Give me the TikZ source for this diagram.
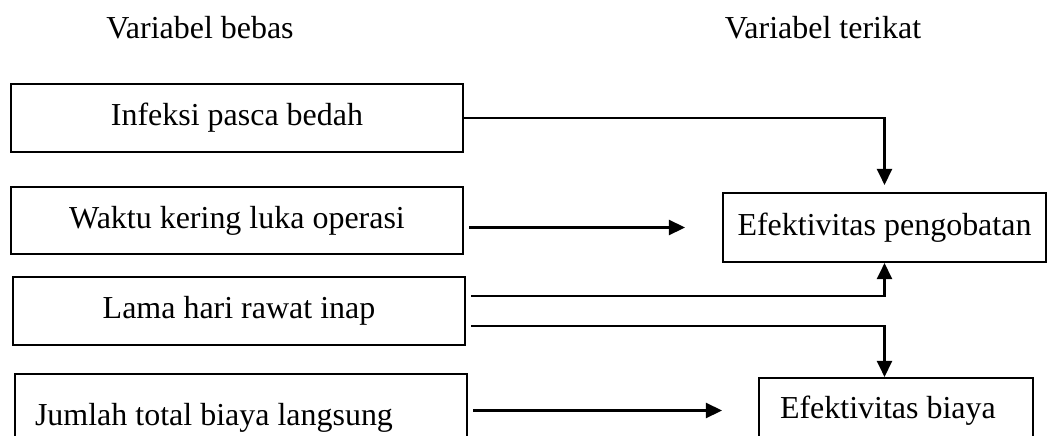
\documentclass[tikz,border=0pt]{standalone}
\usepackage{fontspec}
\setmainfont{Liberation Serif}
\usetikzlibrary{arrows.meta,positioning}

\begin{document}
\begin{tikzpicture}[
    x=0.02cm, y=-0.02cm,
    >={Triangle[length=0.32cm,width=0.3cm]},
    every node/.style={font=\fontsize{18.2}{22}\selectfont},
    varbox/.style={
        draw,
        line width=1.2pt,
        inner sep=0pt,
        minimum height=1.36cm
    },
    link/.style={line width=1.3pt}
]
\useasboundingbox (0,0) rectangle (1048,436);
\clip (0,0) rectangle (1048,436);

\node[anchor=base] (hbebas) at (200,38) {Variabel bebas};
\node[anchor=base] (hterikat) at (823,38) {Variabel terikat};

\node[varbox, minimum width=9.04cm] (inf) at (237,118) {Infeksi pasca bedah};
\node[varbox, minimum width=9.04cm, minimum height=1.34cm] (wak) at (237,220.5) {Waktu kering luka operasi};
\node[varbox, minimum width=9.04cm] (lam) at (239,311) {Lama hari rawat inap};
\node[varbox, minimum height=1.74cm, text width=8.24cm, inner xsep=0.4cm, align=flush left] (jum) at (241,417.5) {Jumlah total biaya langsung};

\node[varbox, minimum width=6.46cm, minimum height=1.38cm] (pen) at (884.5,227.5) {Efektivitas pengobatan};
\node[varbox, minimum height=1.3cm, text width=4.64cm, inner xsep=0.42cm, align=flush left] (bia) at (896,410.5) {Efektivitas biaya};

\draw[link, ->, shorten >=0.14cm] (inf.east) -| (pen.north);
\draw[link, ->, shorten <=0.1cm, shorten >=0.74cm] (wak.east |- pen.west) -- (pen.west);
\draw[link, ->, shorten <=0.1cm] ([yshift=0.3cm]lam.east) -| (pen.south);
\draw[link, ->, shorten <=0.1cm] ([yshift=-0.3cm]lam.east) -| (pen.south |- bia.north);
\draw[link, ->, shorten <=0.1cm, shorten >=0.72cm] (jum.east |- bia.west) -- (bia.west);

\end{tikzpicture}
\end{document}
